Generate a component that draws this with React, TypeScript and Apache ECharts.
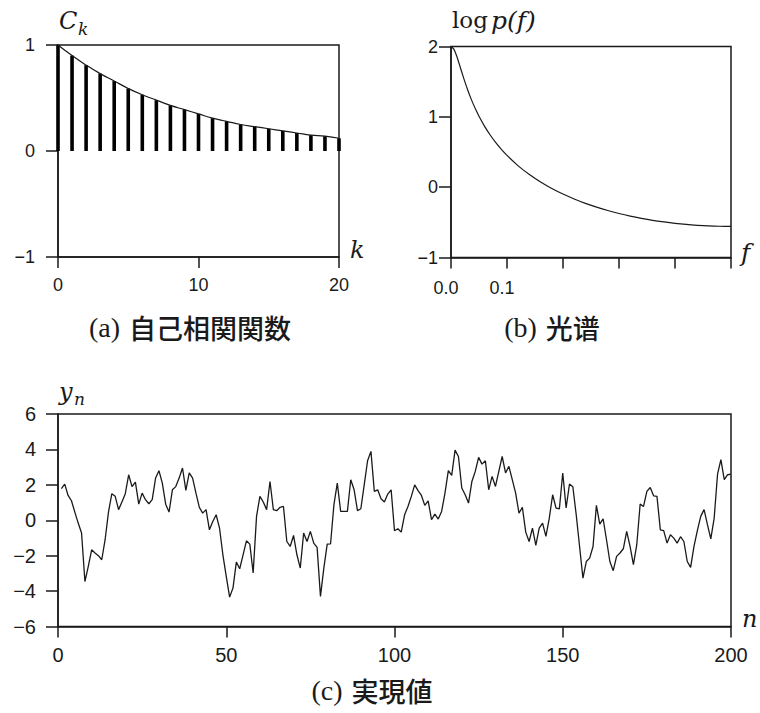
import React, { useEffect, useRef } from "react";
import * as echarts from "echarts";

// (a) autocorrelation C_k at lags k = 0..20
const acfLags = [0, 1, 2, 3, 4, 5, 6, 7, 8, 9, 10, 11, 12, 13, 14, 15, 16, 17, 18, 19, 20];
const acfValues = [
  1.0, 0.9, 0.81, 0.73, 0.66, 0.59, 0.53, 0.48, 0.43, 0.39, 0.35,
  0.31, 0.28, 0.25, 0.23, 0.21, 0.19, 0.17, 0.15, 0.14, 0.12,
];

// (b) log power spectrum log p(f), 0 <= f <= 0.5
const freq = [
  0, 0.005, 0.01, 0.015, 0.02, 0.025, 0.03, 0.035, 0.04, 0.045, 0.05,
  0.06, 0.07, 0.08, 0.09, 0.1,
  0.12, 0.14, 0.16, 0.18, 0.2, 0.22, 0.24, 0.26, 0.28, 0.3,
  0.32, 0.34, 0.36, 0.38, 0.4, 0.42, 0.44, 0.46, 0.48, 0.5,
];
const logPower = [
  2.0, 1.963, 1.868, 1.745, 1.616, 1.493, 1.378, 1.273, 1.177, 1.089, 1.008,
  0.865, 0.742, 0.633, 0.537, 0.451,
  0.303, 0.179, 0.073, -0.019, -0.098, -0.168, -0.23, -0.284, -0.332, -0.374,
  -0.411, -0.443, -0.471, -0.494, -0.514, -0.53, -0.542, -0.551, -0.556, -0.558,
];

// (c) realisation y_n, n = 1..200
const seriesY = [
  1.78, 2.04, 1.4, 1.1, 0.46, -0.16, -0.72, -3.46, -2.6, -1.67,
  -1.85, -2.0, -2.23, -1.1, 0.46, 1.5, 1.35, 0.6, 1.03, 1.5,
  2.57, 1.9, 2.15, 0.91, 1.53, 1.16, 0.93, 1.16, 2.38, 2.8,
  2.1, 0.91, 0.46, 1.72, 1.9, 2.38, 2.95, 1.69, 2.67, 2.38,
  1.53, 0.73, 0.4, 0.6, -0.54, -0.07, 0.31, -0.44, -1.95, -3.17,
  -4.34, -3.83, -2.36, -2.74, -1.95, -1.16, -1.35, -2.98, 0.22, 1.35,
  1.03, 0.6, 2.19, 0.6, 0.54, 0.73, 0.78, -1.2, -1.48, -0.86,
  -1.95, -2.7, -0.72, -1.2, -0.63, -1.29, -1.53, -4.3, -2.7, -1.35,
  -1.33, 0.88, 2.1, 0.5, 0.5, 0.5, 2.29, 1.72, 0.54, 0.65,
  2.0, 3.36, 3.89, 1.63, 1.72, 1.21, 1.03, 1.48, 1.72, -0.59,
  -0.48, -0.67, 0.31, 0.78, 1.35, 2.0, 1.67, 1.4, 0.84, 1.1,
  0.03, 0.35, 0.07, 0.5, 1.53, 2.8, 2.53, 3.96, 3.6, 1.82,
  1.44, 0.97, 2.19, 2.76, 3.55, 3.17, 3.36, 1.72, 2.48, 1.91,
  2.76, 3.6, 2.67, 3.04, 2.29, 1.53, 0.4, 0.73, -0.67, -1.2,
  -0.44, -1.42, -0.44, -0.16, -0.91, 0.12, 1.44, 0.69, 0.65, 2.67,
  0.69, 2.04, 1.89, 0.31, -1.48, -3.27, -2.33, -2.14, -1.48, 0.84,
  -0.22, 0.08, -1.1, -2.33, -2.85, -2.04, -1.85, -1.61, -0.63, -1.48,
  -2.51, -1.38, 0.91, 0.78, 1.63, 1.85, 1.38, 1.35, -0.54, -0.59,
  -1.29, -0.82, -1.01, -1.29, -0.93, -1.2, -2.33, -2.66, -1.48, -0.59,
  0.22, 0.6, -0.25, -1.05, 0.12, 2.6, 3.42, 2.29, 2.57, 2.6,
];

const INK = "#1a1a1a";
const TICK_FONT = "'Liberation Sans', Arial, sans-serif";
const MATH_FONT = "'DejaVu Serif', 'Liberation Serif', serif";
const CAPTION_LATIN = "'Liberation Serif', 'Times New Roman', serif";
const CAPTION_CJK = "'Noto Sans CJK JP', 'Noto Sans CJK SC', sans-serif";

const minusFmt = (v: number) => (v < 0 ? "\u2212" + Math.abs(v) : String(v));

const lineStyle = { color: INK, width: 1.5 };

function xAxisOf(grid: number, min: number, max: number, interval: number, fontSize: number, margin: number, formatter?: (v: number) => string, padding?: number[]) {
  return {
    type: "value",
    gridIndex: grid,
    min,
    max,
    interval,
    axisLine: { show: true, onZero: false, lineStyle },
    axisTick: { show: true, inside: false, length: 11, lineStyle },
    splitLine: { show: false },
    axisLabel: {
      show: true,
      margin,
      color: INK,
      fontFamily: TICK_FONT,
      fontSize,
      formatter: formatter || minusFmt,
      padding: padding || 0,
    },
  };
}

function yAxisOf(grid: number, min: number, max: number, interval: number, fontSize: number, margin: number) {
  return {
    type: "value",
    gridIndex: grid,
    min,
    max,
    interval,
    axisLine: { show: true, onZero: false, lineStyle },
    axisTick: { show: true, inside: false, length: 12, lineStyle },
    splitLine: { show: false },
    axisLabel: {
      show: true,
      margin,
      color: INK,
      fontFamily: TICK_FONT,
      fontSize,
      formatter: minusFmt,
    },
  };
}

function mathText(x: number, y: number, text: string, size: number, italic = true) {
  return {
    type: "text",
    x,
    y,
    style: {
      text,
      fill: INK,
      font: `${italic ? "italic " : ""}${size}px ${MATH_FONT}`,
      textAlign: "left",
      textVerticalAlign: "middle",
    },
  };
}

function caption(x: number, y: number, tag: string, words: string) {
  return {
    type: "text",
    x,
    y,
    style: {
      text: `{t|${tag}}{w|${words}}`,
      textAlign: "center",
      textVerticalAlign: "middle",
      fill: INK,
      rich: {
        t: { fontFamily: CAPTION_LATIN, fontSize: 28, fill: INK, color: INK, padding: [0, 9, 0, 0] },
        w: { fontFamily: CAPTION_CJK, fontSize: 27, fontWeight: 500, fill: INK, color: INK },
      },
    },
  };
}

export default function App() {
  const ref = useRef<HTMLDivElement>(null);

  useEffect(() => {
    if (!ref.current) return;
    const chart = echarts.init(ref.current, undefined, { renderer: "svg" });

    const acfPairs = acfLags.map((k, i) => [k, acfValues[i]]);
    const specPairs = freq.map((f, i) => [f, logPower[i]]);
    const ynPairs = seriesY.map((v, i) => [i + 1, v]);

    const gridBox = { show: true, borderColor: INK, borderWidth: 1.5, backgroundColor: "transparent", containLabel: false };

    chart.setOption({
      animation: false,
      backgroundColor: "#ffffff",
      grid: [
        { ...gridBox, left: 58, top: 45, width: 281, height: 212 },
        { ...gridBox, left: 451, top: 46.5, width: 280, height: 211 },
        { ...gridBox, left: 58, top: 414, width: 673, height: 212.5 },
      ],
      xAxis: [
        xAxisOf(0, 0, 20, 10, 18, 19),
        xAxisOf(1, 0, 0.5, 0.1, 18, 21, (v: number) => (v === 0 ? "0.0" : Math.abs(v - 0.1) < 1e-9 ? "0.1" : ""), [0, 10, 0, 0]),
        xAxisOf(2, 0, 200, 50, 20, 18),
      ],
      yAxis: [
        yAxisOf(0, -1, 1, 1, 18, 23),
        yAxisOf(1, -1, 2, 1, 18, 13),
        yAxisOf(2, -6, 6, 2, 20, 22),
      ],
      series: [
        {
          type: "bar",
          xAxisIndex: 0,
          yAxisIndex: 0,
          data: acfPairs,
          barWidth: 3.6,
          itemStyle: { color: "#000" },
          silent: true,
        },
        {
          type: "line",
          xAxisIndex: 0,
          yAxisIndex: 0,
          data: acfPairs,
          smooth: true,
          showSymbol: false,
          lineStyle: { color: INK, width: 1.2 },
          silent: true,
        },
        {
          type: "line",
          xAxisIndex: 1,
          yAxisIndex: 1,
          data: specPairs,
          smooth: 0.3,
          showSymbol: false,
          lineStyle: { color: INK, width: 1.2 },
          silent: true,
        },
        {
          type: "line",
          xAxisIndex: 2,
          yAxisIndex: 2,
          data: ynPairs,
          showSymbol: false,
          lineStyle: { color: INK, width: 1.3 },
          silent: true,
        },
      ],
      graphic: [
        // axis names
        mathText(59, 21, "C", 24),
        mathText(78, 29, "k", 17),
        mathText(350, 250, "k", 24),
        mathText(452, 20, "log", 23, false),
        mathText(491, 20, "p(f)", 25),
        mathText(741, 252, "f", 25),
        mathText(59, 392, "y", 24),
        mathText(74, 399, "n", 17),
        mathText(742, 619, "n", 24),
        // panel captions
        caption(190, 327, "(a)", "自己相関関数"),
        caption(552, 327, "(b)", "光谱"),
        caption(372, 690, "(c)", "実現値"),
      ],
    });

    return () => chart.dispose();
  }, []);

  return (
    <div
      ref={ref}
      style={{ position: "fixed", left: 0, top: 0, width: 760, height: 713, background: "#fff" }}
    />
  );
}
